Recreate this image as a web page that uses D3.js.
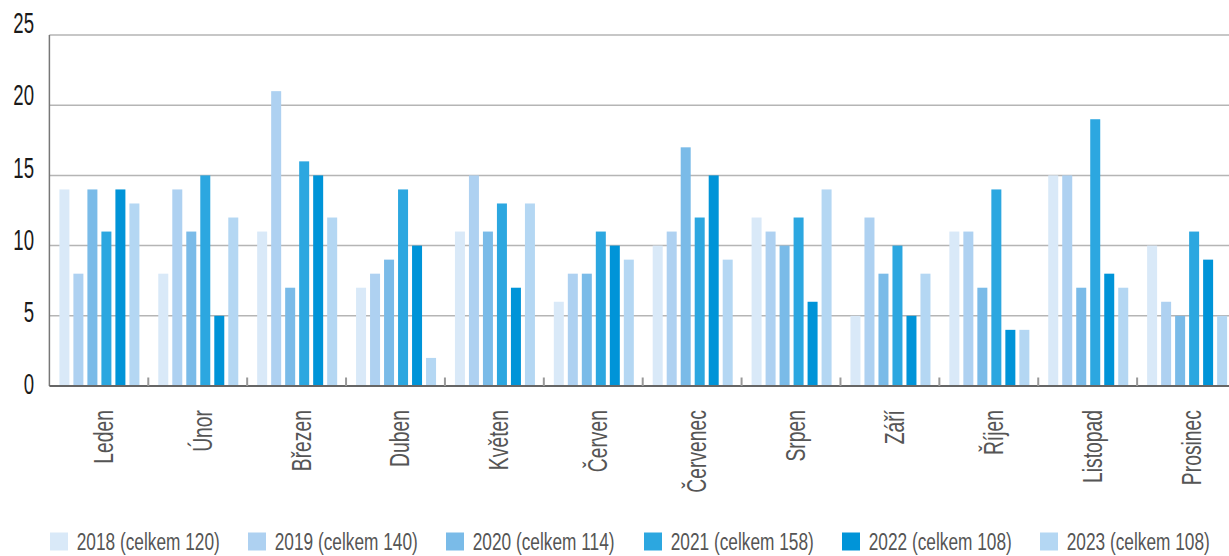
<html>
<head>
    <meta charset="utf-8">
    <script src="https://cdn.jsdelivr.net/npm/d3@7"></script>
    <style>
        body { margin: 0; background: #fff; }
        text { font-family: "Liberation Sans", Arial, sans-serif; }
    </style>
</head>
<body>
<div id="chart"></div>
<script>
    // data
    const months = ["Leden", "Únor", "Březen", "Duben", "Květen", "Červen",
                    "Červenec", "Srpen", "Září", "Říjen", "Listopad", "Prosinec"];
    const years = ["2018", "2019", "2020", "2021", "2022", "2023"];
    const totals = [120, 140, 114, 158, 108, 108];
    const v2018 = [14, 8, 11, 7, 11, 6, 10, 12, 5, 11, 15, 10];
    const v2019 = [8, 14, 21, 8, 15, 8, 11, 11, 12, 11, 15, 6];
    const v2020 = [14, 11, 7, 9, 11, 8, 17, 10, 8, 7, 7, 5];
    const v2021 = [11, 15, 16, 14, 13, 11, 12, 12, 10, 14, 19, 11];
    const v2022 = [14, 5, 15, 10, 7, 10, 15, 6, 5, 4, 8, 9];
    const v2023 = [13, 12, 12, 2, 13, 9, 9, 14, 8, 4, 7, 5];
    const yTicks = [0, 5, 10, 15, 20, 25];
    const colors = ["#d9e9f8", "#aed1f1", "#7abbe8", "#2ca7e0", "#0094d8", "#b4d7f3"];

    const series = [v2018, v2019, v2020, v2021, v2022, v2023];

    const width = 1229, height = 556;
    const svg = d3.select("#chart").append("svg")
        .attr("width", width).attr("height", height);

    const x0 = d3.scaleBand().domain(months).range([49.4, 1236]);
    const x1 = d3.scaleBand().domain(years).range([10, 90]).paddingInner(4 / 14);
    const y = d3.scaleLinear().domain([0, 25]).range([386, 35]);
    // the tick labels drift a bit from the grid lines in the original
    const yLab = d3.scaleLinear().domain([0, 25]).range([383, 22.5]);

    // grid lines
    svg.append("g")
        .selectAll("line")
        .data(yTicks.filter(d => d > 0))
        .join("line")
        .attr("x1", 49.4).attr("x2", width)
        .attr("y1", d => y(d)).attr("y2", d => y(d))
        .attr("stroke", "#b5b5b5")
        .attr("stroke-width", 1.5);

    // bars
    const rows = [];
    months.forEach((m, i) => years.forEach((yr, j) => rows.push({m, yr, j, v: series[j][i]})));
    svg.append("g")
        .selectAll("rect")
        .data(rows)
        .join("rect")
        .attr("x", d => x0(d.m) + x1(d.yr))
        .attr("y", d => y(d.v))
        .attr("width", x1.bandwidth())
        .attr("height", d => y(0) - y(d.v))
        .attr("fill", d => colors[d.j]);

    // axes
    svg.append("line")
        .attr("x1", 49.4).attr("x2", 49.4).attr("y1", 35).attr("y2", 386)
        .attr("stroke", "#777").attr("stroke-width", 1.5);
    svg.append("line")
        .attr("x1", 49.4).attr("x2", width).attr("y1", 386).attr("y2", 386)
        .attr("stroke", "#666").attr("stroke-width", 2);

    svg.append("g")
        .selectAll("line")
        .data(months.slice(1))
        .join("line")
        .attr("x1", d => x0(d)).attr("x2", d => x0(d))
        .attr("y1", 377.5).attr("y2", 386)
        .attr("stroke", "#999").attr("stroke-width", 2);

    // y labels
    svg.append("g")
        .selectAll("text")
        .data(yTicks)
        .join("text")
        .attr("transform", d => `translate(34,${yLab(d)}) scale(0.62,1)`)
        .attr("text-anchor", "end")
        .attr("dy", "0.36em")
        .attr("font-size", 30)
        .attr("fill", "#1a1a1a")
        .text(d => d);

    // month labels
    svg.append("g")
        .selectAll("text")
        .data(months)
        .join("text")
        .attr("transform", d => `translate(${x0(d) + x0.bandwidth() / 2 + 14},410) rotate(-90) scale(0.69,1)`)
        .attr("text-anchor", "end")
        .attr("font-size", 28)
        .attr("fill", "#555")
        .text(d => d);

    // legend
    const leg = svg.append("g")
        .selectAll("g")
        .data(years)
        .join("g")
        .attr("transform", (d, i) => `translate(${50 + i * 198},532.5)`);
    leg.append("rect")
        .attr("width", 18).attr("height", 18)
        .attr("fill", (d, i) => colors[i]);
    leg.append("text")
        .attr("transform", "translate(26.7,9) scale(0.72,1)")
        .attr("dy", "0.36em")
        .attr("font-size", 24)
        .attr("fill", "#555")
        .text((d, i) => `${d} (celkem ${totals[i]})`);
</script>
</body>
</html>
